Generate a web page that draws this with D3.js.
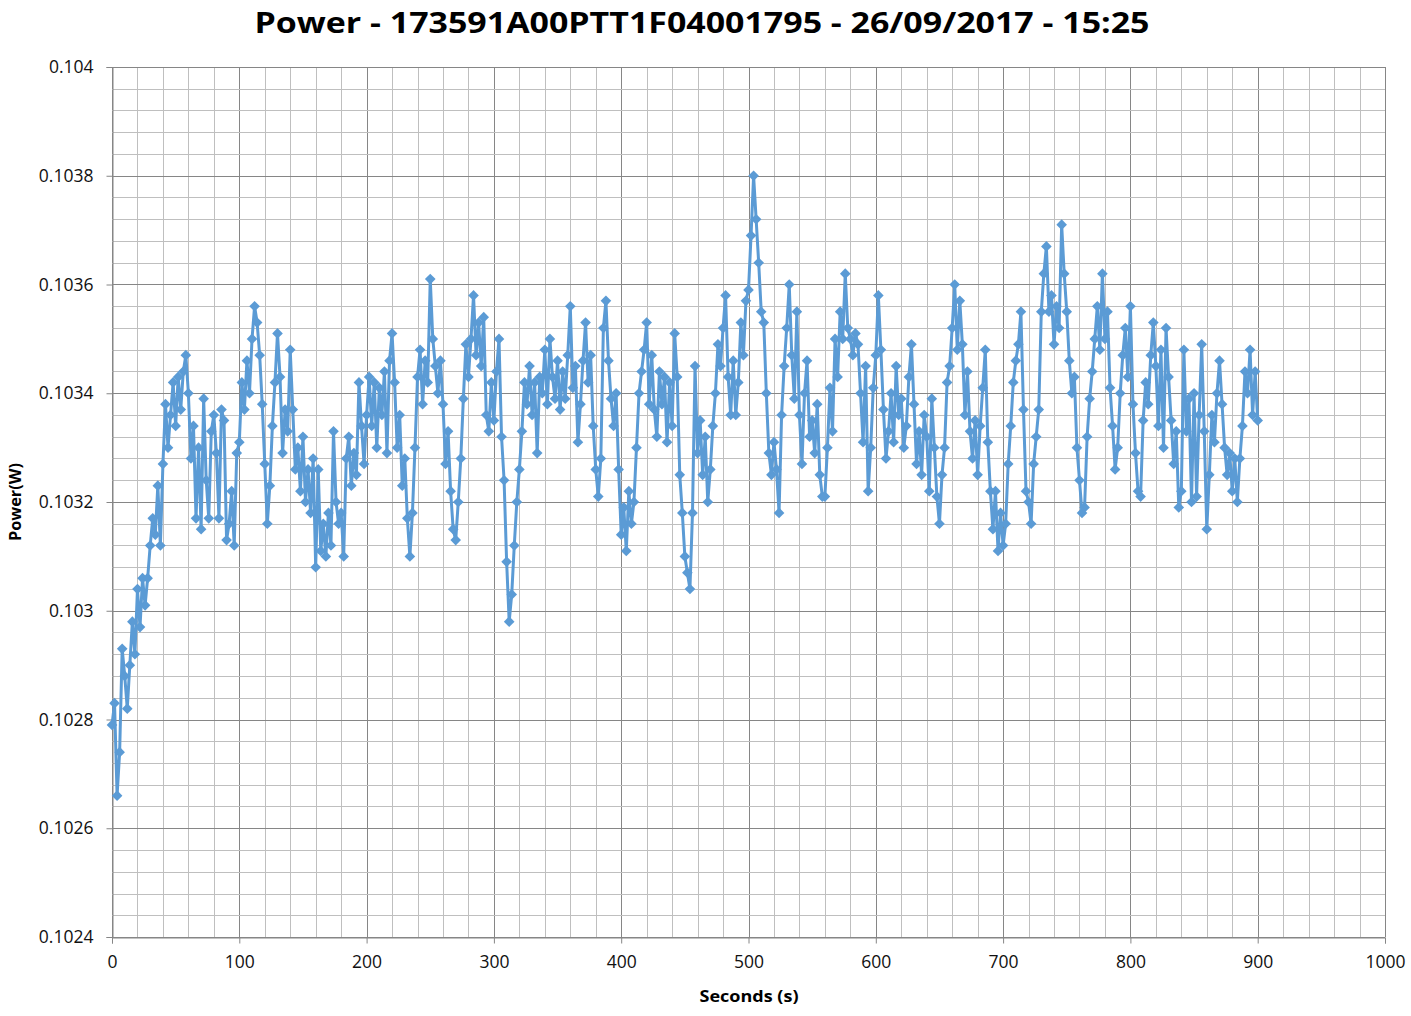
<!DOCTYPE html>
<html><head><meta charset="utf-8">
<script src="https://cdn.jsdelivr.net/npm/d3@7"></script>
<style>body{margin:0;background:#fff}svg{display:block}</style>
</head><body>
<script>
const chartTitle = "Power - 173591A00PTT1F04001795 - 26/09/2017 - 15:25";
const xTitle = "Seconds (s)";
const yTitle = "Power(W)";
const xTicks = [0,100,200,300,400,500,600,700,800,900,1000];
const yTicks = [0.1024,0.1026,0.1028,0.103,0.1032,0.1034,0.1036,0.1038,0.104];
const yTickLabels = ["0.1024","0.1026","0.1028","0.103","0.1032","0.1034","0.1036","0.1038","0.104"];
const sampleStart = 0, sampleStep = 2; // seconds
const power = [
0.10279,0.10283,0.10266,0.10274,0.10293,0.10288,0.10282,0.10290,0.10298,0.10292,
0.10304,0.10297,0.10306,0.10301,0.10306,0.10312,0.10317,0.10314,0.10323,0.10312,
0.10327,0.10338,0.10330,0.10336,0.10342,0.10334,0.10343,0.10337,0.10344,0.10347,
0.10340,0.10328,0.10334,0.10317,0.10330,0.10315,0.10339,0.10324,0.10317,0.10333,
0.10336,0.10329,0.10317,0.10337,0.10335,0.10313,0.10316,0.10322,0.10312,0.10329,
0.10331,0.10342,0.10337,0.10346,0.10340,0.10350,0.10356,0.10353,0.10347,0.10338,
0.10327,0.10316,0.10323,0.10334,0.10342,0.10351,0.10343,0.10329,0.10337,0.10333,
0.10348,0.10337,0.10326,0.10330,0.10322,0.10332,0.10320,0.10326,0.10318,0.10328,
0.10308,0.10326,0.10311,0.10316,0.10310,0.10318,0.10312,0.10333,0.10320,0.10316,
0.10318,0.10310,0.10328,0.10332,0.10323,0.10329,0.10325,0.10342,0.10334,0.10327,
0.10336,0.10343,0.10334,0.10342,0.10330,0.10341,0.10336,0.10344,0.10329,0.10346,
0.10351,0.10342,0.10330,0.10336,0.10323,0.10328,0.10317,0.10310,0.10318,0.10330,
0.10343,0.10348,0.10338,0.10346,0.10342,0.10361,0.10350,0.10345,0.10340,0.10346,
0.10338,0.10327,0.10333,0.10322,0.10315,0.10313,0.10320,0.10328,0.10339,0.10349,
0.10343,0.10350,0.10358,0.10347,0.10353,0.10345,0.10354,0.10336,0.10333,0.10342,
0.10335,0.10344,0.10350,0.10332,0.10324,0.10309,0.10298,0.10303,0.10312,0.10320,
0.10326,0.10333,0.10342,0.10338,0.10345,0.10336,0.10342,0.10329,0.10343,0.10340,
0.10348,0.10338,0.10350,0.10343,0.10339,0.10346,0.10337,0.10344,0.10339,0.10347,
0.10356,0.10341,0.10345,0.10331,0.10338,0.10346,0.10353,0.10342,0.10347,0.10334,
0.10326,0.10321,0.10328,0.10352,0.10357,0.10346,0.10339,0.10334,0.10340,0.10326,
0.10314,0.10319,0.10311,0.10322,0.10316,0.10320,0.10330,0.10340,0.10344,0.10348,
0.10353,0.10338,0.10347,0.10337,0.10332,0.10344,0.10338,0.10343,0.10331,0.10342,
0.10334,0.10351,0.10343,0.10325,0.10318,0.10310,0.10307,0.10304,0.10318,0.10345,
0.10329,0.10335,0.10325,0.10332,0.10320,0.10326,0.10334,0.10340,0.10349,0.10345,
0.10352,0.10358,0.10343,0.10336,0.10346,0.10336,0.10342,0.10353,0.10347,0.10357,
0.10359,0.10369,0.10380,0.10372,0.10364,0.10355,0.10353,0.10340,0.10329,0.10325,
0.10331,0.10326,0.10318,0.10336,0.10345,0.10352,0.10360,0.10347,0.10339,0.10355,
0.10336,0.10327,0.10340,0.10346,0.10332,0.10335,0.10329,0.10338,0.10325,0.10321,
0.10321,0.10330,0.10341,0.10333,0.10350,0.10343,0.10355,0.10350,0.10362,0.10352,
0.10350,0.10347,0.10351,0.10349,0.10340,0.10331,0.10345,0.10322,0.10330,0.10341,
0.10347,0.10358,0.10348,0.10337,0.10328,0.10333,0.10340,0.10331,0.10345,0.10336,
0.10339,0.10330,0.10334,0.10343,0.10349,0.10338,0.10327,0.10333,0.10325,0.10336,
0.10332,0.10322,0.10339,0.10330,0.10321,0.10316,0.10325,0.10330,0.10342,0.10345,
0.10352,0.10360,0.10348,0.10357,0.10349,0.10336,0.10344,0.10333,0.10328,0.10335,
0.10325,0.10334,0.10341,0.10348,0.10331,0.10322,0.10315,0.10322,0.10311,0.10318,
0.10312,0.10316,0.10327,0.10334,0.10342,0.10346,0.10349,0.10355,0.10337,0.10322,
0.10320,0.10316,0.10327,0.10332,0.10337,0.10355,0.10362,0.10367,0.10355,0.10358,
0.10349,0.10356,0.10352,0.10371,0.10362,0.10355,0.10346,0.10340,0.10343,0.10330,
0.10324,0.10318,0.10319,0.10332,0.10339,0.10344,0.10350,0.10356,0.10348,0.10362,
0.10350,0.10355,0.10341,0.10334,0.10326,0.10330,0.10340,0.10347,0.10352,0.10343,
0.10356,0.10338,0.10329,0.10322,0.10321,0.10335,0.10342,0.10338,0.10347,0.10353,
0.10345,0.10334,0.10348,0.10330,0.10352,0.10343,0.10335,0.10327,0.10333,0.10319,
0.10322,0.10348,0.10333,0.10339,0.10320,0.10340,0.10321,0.10336,0.10349,0.10333,
0.10315,0.10325,0.10336,0.10331,0.10340,0.10346,0.10338,0.10330,0.10325,0.10329,
0.10322,0.10328,0.10320,0.10328,0.10334,0.10344,0.10340,0.10348,0.10336,0.10344,
0.10335
];

const W = 1411, H = 1016;
const m = {left:112, right:1385, top:67, bottom:937};
const svg = d3.select("body").append("svg").attr("width",W).attr("height",H);

const x = d3.scaleLinear().domain([0,1000]).range([m.left,m.right]);
const y = d3.scaleLinear().domain([0.1024,0.104]).range([m.bottom,m.top]);

const data = power.map((v,i)=>({t: sampleStart + i*sampleStep, v}));

// grid
const g = svg.append("g");
g.selectAll("line.mx").data(d3.range(0,1001,20)).join("line")
  .attr("x1",d=>Math.round(x(d))+0.5).attr("x2",d=>Math.round(x(d))+0.5).attr("y1",m.top).attr("y2",m.bottom)
  .attr("stroke",d=>d%100===0?"#868686":"#bfbfbf").attr("stroke-width",1);
g.selectAll("line.my").data(d3.range(0,41)).join("line")
  .attr("y1",d=>Math.round(y(0.1024+d*0.00004))+0.5).attr("y2",d=>Math.round(y(0.1024+d*0.00004))+0.5)
  .attr("x1",m.left).attr("x2",m.right)
  .attr("stroke",d=>d%5===0?"#868686":"#bfbfbf").attr("stroke-width",1);

// axes
const yAxis = d3.axisLeft(y).tickValues(yTicks).tickFormat((d,i)=>yTickLabels[i]).tickSize(6).tickPadding(13);
const ya = svg.append("g").attr("transform",`translate(${m.left+0.5},0)`).call(yAxis);
const xAxis = d3.axisBottom(x).tickValues(xTicks).tickFormat(d3.format("d")).tickSize(6).tickPadding(12);
const xa = svg.append("g").attr("transform",`translate(0,${m.bottom+0.5})`).call(xAxis);
[ya,xa].forEach(a=>{
  a.select(".domain").attr("stroke","#868686");
  a.selectAll(".tick line").attr("stroke","#868686");
  a.selectAll("text").attr("font-family","'Open Sans', sans-serif").attr("font-size",17.5).attr("fill","#111");
});
xa.selectAll("text").attr("dy","0.71em");

// line
svg.append("path").datum(data)
  .attr("fill","none").attr("stroke","#5b9bd5").attr("stroke-width",3).attr("stroke-linejoin","round")
  .attr("d", d3.line().x(d=>x(d.t)).y(d=>y(d.v)));

// diamond markers
const dia = d3.symbol().type(d3.symbolDiamond2).size(72);
svg.append("g").selectAll("path").data(data).join("path")
  .attr("transform",d=>`translate(${x(d.t)},${y(d.v)})`)
  .attr("d",dia).attr("fill","#5b9bd5");

// titles
svg.append("text").attr("x",702).attr("y",33).attr("text-anchor","middle")
  .attr("font-family","'Open Sans', sans-serif").attr("font-weight","bold").attr("font-size",29)
  .attr("textLength",895).attr("lengthAdjust","spacingAndGlyphs").attr("fill","#000").text(chartTitle);
svg.append("text").attr("x",749).attr("y",1002).attr("text-anchor","middle")
  .attr("font-family","'Open Sans', sans-serif").attr("font-weight","bold").attr("font-size",16)
  .attr("textLength",99).attr("lengthAdjust","spacingAndGlyphs").attr("fill","#000").text(xTitle);
svg.append("text").attr("transform","translate(21,502) rotate(-90)").attr("text-anchor","middle")
  .attr("font-family","'Open Sans', sans-serif").attr("font-weight","bold").attr("font-size",16)
  .attr("textLength",78).attr("lengthAdjust","spacingAndGlyphs").attr("fill","#000").text(yTitle);
</script>
</body></html>
